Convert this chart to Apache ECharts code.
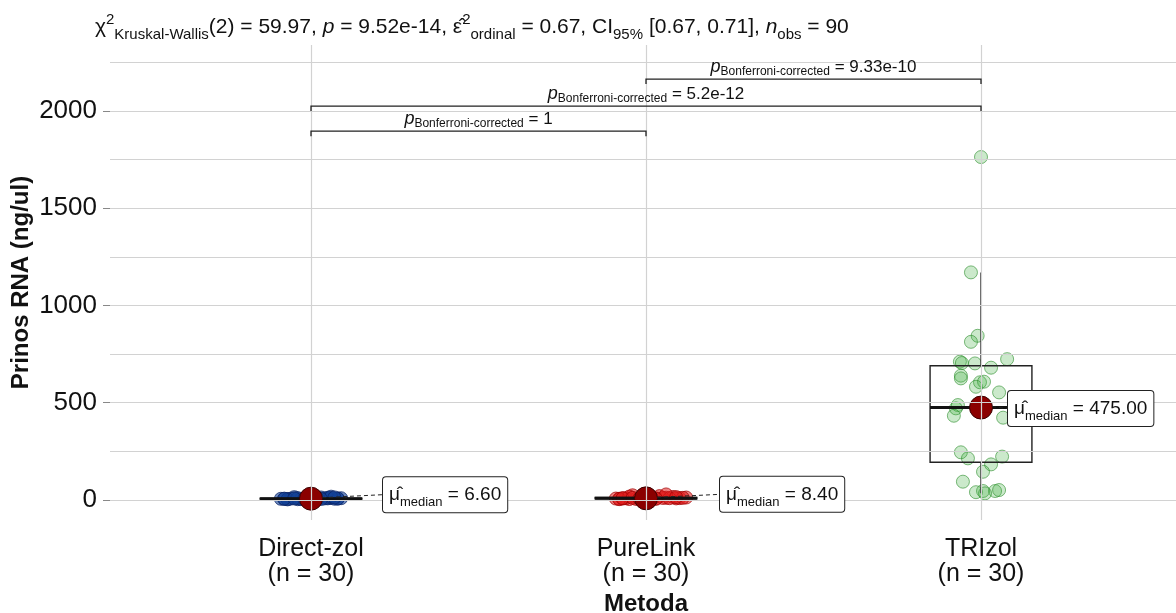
<!DOCTYPE html>
<html>
<head>
<meta charset="utf-8">
<title>Prinos RNA</title>
<script src="https://cdn.jsdelivr.net/npm/echarts@6/dist/echarts.min.js"></script>
<style>
    html, body { margin: 0; padding: 0; background: #fff; }
    #main { width: 1176px; height: 613px; }
</style>
</head>
<body>
<div id="main"></div>
<script>
    // groups on the x axis
    const groups = ['Direct-zol', 'PureLink', 'TRIzol'];
    const groupN = [30, 30, 30];

    // raw points (ng/ul) + horizontal jitter (in category units)
    const directVals = [6.6, 5.1, 8.2, 3.9, 7.4, 6.0, 10.3, 4.6, 12.8, 6.9, 2.7, 9.1, 5.5, 7.8, 14.6,
        6.3, 4.2, 8.7, 11.4, 6.6, 3.1, 7.1, 9.8, 5.8, 16.9, 6.8, 4.9, 8.0, 13.2, 5.3];
    const directJitter = [0.02, -0.07, 0.05, -0.04, 0.08, -0.09, 0.06, -0.02, 0.03, -0.06, 0.01, 0.09, -0.08, 0.04, -0.05,
        0.07, -0.03, 0.00, 0.05, -0.01, -0.07, 0.08, -0.04, 0.02, 0.06, -0.08, 0.03, -0.05, 0.07, -0.02];

    const pureVals = [8.4, 6.2, 11.5, 4.8, 9.7, 7.3, 15.2, 5.6, 19.8, 8.9, 3.5, 12.6, 7.0, 10.4, 24.1,
        8.1, 5.2, 13.9, 9.2, 8.4, 4.1, 10.8, 17.3, 6.7, 28.5, 9.5, 6.0, 11.1, 14.7, 7.6];
    const pureJitter = [0.03, -0.08, 0.06, -0.05, 0.10, -0.09, 0.08, -0.03, 0.04, -0.06, 0.01, 0.12, -0.07, 0.05, -0.04,
        0.09, -0.02, 0.00, 0.07, -0.01, -0.08, 0.11, -0.05, 0.02, 0.06, -0.07, 0.03, -0.04, 0.09, -0.02];

    const triVals = [1763, 1170, 844, 813, 711, 704, 702, 680, 724, 639, 625, 605, 608, 582, 553,
        488, 471, 433, 423, 245, 214, 223, 183, 145, 94, 46, 46, 51, 34, 40];
    const triJitter = [0.00, -0.03, -0.01, -0.03, -0.063, -0.057, -0.018, 0.03, 0.078, -0.06, -0.06, -0.003, 0.009, -0.015, 0.054,
        -0.069, -0.075, -0.081, 0.066, -0.06, -0.039, 0.063, 0.03, 0.006, -0.054, 0.006, 0.042, 0.054, 0.012, -0.015];

    // box stats: [min, q1, median, q3, max]
    const boxStats = [
        [2.7, 5.2, 6.6, 8.9, 16.9],
        [3.5, 6.5, 8.4, 12.3, 24.1],
        [34, 194, 475, 690, 1170]
    ];
    const medians = [6.60, 8.40, 475.00];

    // pairwise comparisons: [from, to, bracket height], p labels
    const comparisons = [
        [1, 2, 1896],
        [1, 3, 2025],
        [2, 3, 2164]
    ];
    const compP = ['1', '5.2e-12', '9.33e-10'];

    // axis ticks
    const yTicks = [0, 500, 1000, 1500, 2000];
    const yGrid = [0, 250, 500, 750, 1000, 1250, 1500, 1750, 2000, 2250];

    const FONT = 'Liberation Sans, Arial, sans-serif';
    const pointColors = [
        { fill: 'rgba(20,65,150,0.78)', border: 'rgba(10,35,100,0.9)' },
        { fill: 'rgba(225,30,30,0.7)', border: 'rgba(160,0,0,0.9)' },
        { fill: 'rgba(70,175,70,0.35)', border: 'rgba(40,140,40,0.75)' }
    ];

    function pts(vals, jit, gi) {
        return vals.map((v, i) => [gi + 1 + jit[i], v]);
    }

    function renderBox(params, api) {
        const x = api.value(0);
        const hw = 0.152;
        const lo = api.value(1), q1 = api.value(2), med = api.value(3), q3 = api.value(4), hi = api.value(5);
        const tl = api.coord([x - hw, q3]);
        const br = api.coord([x + hw, q1]);
        const mL = api.coord([x - hw, med]);
        const mR = api.coord([x + hw, med]);
        const top = api.coord([x, hi]);
        const bot = api.coord([x, lo]);
        const ln = { stroke: '#222', lineWidth: 1.4 };
        return {
            type: 'group',
            children: [
                { type: 'line', shape: { x1: top[0], y1: top[1], x2: top[0], y2: tl[1] }, style: ln },
                { type: 'line', shape: { x1: bot[0], y1: bot[1], x2: bot[0], y2: br[1] }, style: ln },
                { type: 'rect', shape: { x: tl[0], y: tl[1], width: br[0] - tl[0], height: br[1] - tl[1] },
                    style: { fill: null, stroke: '#222', lineWidth: 1.4 } },
                { type: 'line', shape: { x1: mL[0], y1: mL[1], x2: mR[0], y2: mR[1] },
                    style: { stroke: '#111', lineWidth: 3 } }
            ]
        };
    }

    // label offset from the median dot, pixels
    const labelDx = [72, 74, 27];
    const labelDy = [-4, -4, 1];

    function renderMedLabel(params, api) {
        const i = params.dataIndex;
        const p = api.coord([api.value(0), api.value(1)]);
        const lx = p[0] + labelDx[i];
        const ly = p[1] + labelDy[i];
        return {
            type: 'group',
            children: [
                { type: 'line', shape: { x1: p[0] + 11, y1: p[1] - 1, x2: lx, y2: ly },
                    style: { stroke: '#222', lineWidth: 1, lineDash: [4, 3] } },
                {
                    type: 'text', x: lx, y: ly,
                    style: {
                        text: '{mu|μ̂}{sub|median}{eq| = ' + medians[i].toFixed(2) + '}',
                        rich: {
                            mu: { fontSize: 19, fontFamily: FONT, fill: '#111', lineHeight: 28, verticalAlign: 'middle' },
                            sub: { fontSize: 13, fontFamily: FONT, fill: '#111', lineHeight: 13, verticalAlign: 'bottom' },
                            eq: { fontSize: 19, fontFamily: FONT, fill: '#111', lineHeight: 28, verticalAlign: 'middle' }
                        },
                        align: 'left', verticalAlign: 'middle',
                        backgroundColor: '#fff', borderColor: '#222', borderWidth: 1, borderRadius: 3,
                        padding: [4, 6, 3, 6]
                    },
                    z2: 10
                }
            ]
        };
    }

    function renderBracket(params, api) {
        const a = api.coord([api.value(0), api.value(2)]);
        const b = api.coord([api.value(1), api.value(2)]);
        const tip = 5;
        return {
            type: 'group',
            children: [
                { type: 'polyline', shape: { points: [[a[0], a[1] + tip], [a[0], a[1]], [b[0], b[1]], [b[0], b[1] + tip]] },
                    style: { stroke: '#222', lineWidth: 1.3, fill: null } },
                {
                    type: 'text', x: (a[0] + b[0]) / 2, y: a[1] - 1,
                    style: {
                        text: '{p|p}{s|Bonferroni-corrected}{e| = ' + compP[params.dataIndex] + '}',
                        rich: {
                            p: { fontSize: 18, fontStyle: 'italic', fontFamily: FONT, fill: '#111', lineHeight: 22, verticalAlign: 'middle' },
                            s: { fontSize: 12, fontFamily: FONT, fill: '#111', lineHeight: 12, verticalAlign: 'bottom' },
                            e: { fontSize: 17, fontFamily: FONT, fill: '#111', lineHeight: 22, verticalAlign: 'middle' }
                        },
                        align: 'center', verticalAlign: 'bottom'
                    }
                }
            ]
        };
    }

    const myChart = echarts.init(document.getElementById('main'), null, { renderer: 'canvas' });

    const tt = { fontSize: 21, fontWeight: 'normal', fontFamily: FONT, color: '#111', lineHeight: 30, verticalAlign: 'middle' };
    const small = { fontSize: 15, fontWeight: 'normal', fontFamily: FONT, color: '#111', lineHeight: 15 };
    const option = {
        backgroundColor: '#fff',
        animation: false,
        title: {
            left: 95,
            top: 12,
            padding: 0,
            text: '{t|χ}{sup|2}{sub|Kruskal-Wallis}{t|(2) = 59.97, }{it|p}{t| = 9.52e-14, }{t|ε̂}{sup|2}{sub|ordinal}' +
                '{t| = 0.67, CI}{sub|95%}{t| [0.67, 0.71], }{it|n}{sub|obs}{t| = 90}',
            textStyle: {
                fontWeight: 'normal',
                rich: {
                    t: tt,
                    it: Object.assign({}, tt, { fontStyle: 'italic' }),
                    sup: Object.assign({}, small, { verticalAlign: 'top' }),
                    sub: Object.assign({}, small, { verticalAlign: 'bottom' })
                }
            }
        },
        grid: {
            left: 110,
            top: 45,
            width: 1072,
            height: 475,
            outerBoundsMode: 'none',
            containLabel: false
        },
        xAxis: {
            type: 'value',
            min: 0.4,
            max: 3.6,
            name: 'Metoda',
            nameLocation: 'middle',
            nameGap: 67,
            nameTextStyle: { fontSize: 24, fontWeight: 'bold', fontFamily: FONT, color: '#111' },
            axisLine: { show: false },
            splitLine: { show: false },
            axisTick: { show: true, length: 6, customValues: [1, 2, 3], lineStyle: { color: '#888' } },
            axisLabel: {
                customValues: [1, 2, 3],
                margin: 17,
                fontSize: 25,
                lineHeight: 25,
                fontFamily: FONT,
                color: '#111',
                formatter: function(v) {
                    const i = Math.round(v) - 1;
                    return groups[i] + '\n(n = ' + groupN[i] + ')';
                }
            }
        },
        yAxis: {
            type: 'value',
            min: -103,
            max: 2339,
            name: 'Prinos RNA (ng/ul)',
            nameLocation: 'middle',
            nameGap: 77,
            nameMoveOverlap: false,
            nameTextStyle: { fontSize: 24, fontWeight: 'bold', fontFamily: FONT, color: '#111' },
            axisLine: { show: false },
            splitLine: { show: false },
            axisTick: { show: true, length: 7, customValues: yTicks, lineStyle: { color: '#888' } },
            axisLabel: {
                customValues: yTicks,
                margin: 13,
                fontSize: 26,
                fontFamily: FONT,
                color: '#111',
                formatter: function(v) {
                    return String(v);
                }
            }
        },
        series: [
            {
                // grid lines
                type: 'scatter',
                data: [],
                z: 0,
                silent: true,
                markLine: {
                    silent: true,
                    symbol: 'none',
                    label: { show: false },
                    animation: false,
                    lineStyle: { color: '#d2d2d2', width: 1.2, type: 'solid' },
                    data: yGrid.map(v => ({ yAxis: v })).concat([1, 2, 3].map(v => ({ xAxis: v })))
                }
            },
            {
                name: groups[0], type: 'scatter', z: 2, symbolSize: 13,
                itemStyle: { color: pointColors[0].fill, borderColor: pointColors[0].border, borderWidth: 1 },
                data: pts(directVals, directJitter, 0)
            },
            {
                name: groups[1], type: 'scatter', z: 2, symbolSize: 13,
                itemStyle: { color: pointColors[1].fill, borderColor: pointColors[1].border, borderWidth: 1 },
                data: pts(pureVals, pureJitter, 1)
            },
            {
                name: groups[2], type: 'scatter', z: 2, symbolSize: 13,
                itemStyle: { color: pointColors[2].fill, borderColor: pointColors[2].border, borderWidth: 1 },
                data: pts(triVals, triJitter, 2)
            },
            {
                type: 'custom', z: 3, silent: true,
                renderItem: renderBox,
                encode: { x: 0, y: [1, 2, 3, 4, 5] },
                data: boxStats.map((s, i) => [i + 1].concat(s))
            },
            {
                type: 'scatter', z: 4, symbolSize: 23, silent: true,
                itemStyle: { color: '#8b0000', borderColor: '#3a0000', borderWidth: 1, opacity: 1 },
                data: medians.map((m, i) => [i + 1, m])
            },
            {
                type: 'custom', z: 5, silent: true,
                renderItem: renderMedLabel,
                encode: { x: 0, y: 1 },
                data: medians.map((m, i) => [i + 1, m])
            },
            {
                type: 'custom', z: 5, silent: true,
                renderItem: renderBracket,
                encode: { x: [0, 1], y: 2 },
                data: comparisons
            }
        ]
    };

    myChart.setOption(option);
    window.addEventListener('resize', () => {
        if (myChart) {
            myChart.resize();
        }
    });
</script>
</body>
</html>
